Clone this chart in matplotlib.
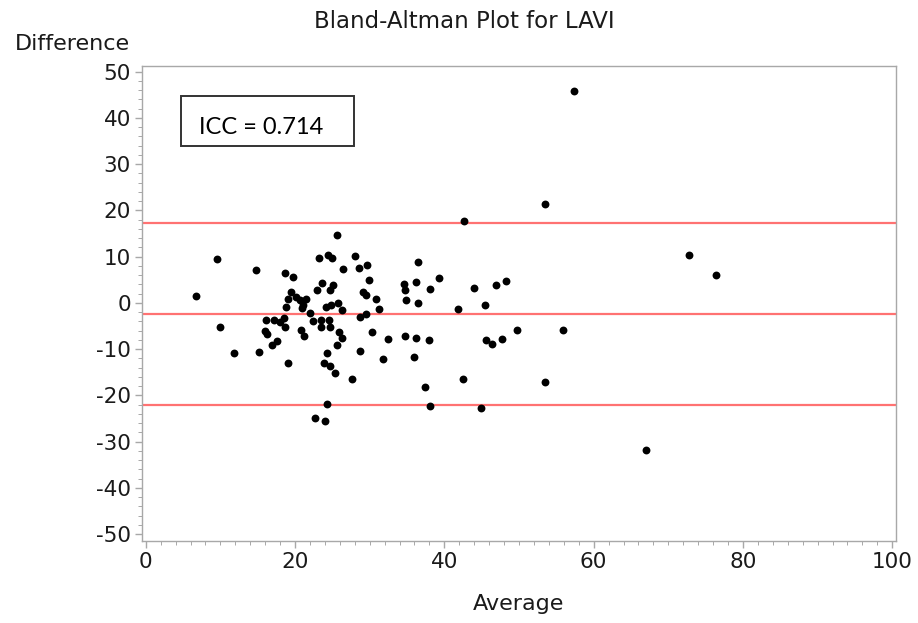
import matplotlib
matplotlib.use("Agg")
import matplotlib.pyplot as plt
from matplotlib.ticker import MultipleLocator
from matplotlib.patches import Rectangle

plt.rcParams["axes.unicode_minus"] = False

average = [6.79, 9.60, 10.01, 11.83, 14.74, 15.20, 16.17, 17.15, 16.01, 16.30,
           16.97, 17.59, 17.95, 18.62, 19.06, 18.55, 18.69, 19.73, 19.52, 19.06,
           20.19, 20.72, 21.07, 21.53, 18.85, 21.97, 22.41, 20.86, 21.17, 20.96,
           22.73, 24.07, 24.34, 22.97, 23.17, 23.67, 24.45, 24.92, 25.63, 24.72,
           25.09, 24.21, 24.85, 25.72, 26.30, 23.54, 23.54, 24.55, 24.74, 25.89,
           26.26, 25.63, 24.31, 23.84, 24.65, 25.32, 26.46, 27.64, 28.04, 28.53,
           29.65, 29.87, 29.11, 29.56, 30.90, 31.25, 29.56, 28.67, 30.37, 32.42,
           28.67, 31.79, 34.56, 34.70, 36.17, 36.48, 38.14, 39.25, 43.94, 46.98,
           48.32, 34.83, 36.48, 41.84, 45.41, 34.70, 36.17, 37.95, 35.94, 49.74,
           55.86, 45.55, 46.39, 47.69, 37.47, 42.51, 53.49, 38.08, 44.88, 42.64,
           53.48, 57.37, 72.78, 76.36, 67.07]
difference = [1.40, 9.42, -5.33, -10.92, 7.10, -10.65, -3.76, -3.61, -6.02, -6.77,
              -9.20, -8.34, -4.13, 6.41, -13.08, -3.23, -5.16, 5.59, 2.26, 0.90,
              1.25, 0.54, -0.54, 0.90, -0.90, -2.11, -3.98, -5.81, -7.10, -1.18,
              -24.90, -25.63, -21.83, 2.84, 9.72, 4.34, 10.43, 9.63, 14.67, 2.80,
              3.76, -0.86, -0.54, -0.11, -1.51, -3.76, -5.20, -3.76, -5.20, -6.34,
              -7.53, -9.03, -10.92, -13.01, -13.59, -15.16, 7.35, -16.52, 10.15, 7.57,
              8.28, 4.95, 2.32, 1.61, 0.75, -1.25, -2.32, -3.05, -6.41, -7.85,
              -10.43, -12.15, 3.98, 2.84, 4.47, 8.77, 2.90, 5.42, 3.27, 3.76,
              4.69, 0.69, -0.04, -1.25, -0.54, -7.14, -7.57, -8.06, -11.66, -5.91,
              -5.91, -8.06, -8.92, -7.85, -18.11, -16.45, -17.16, -22.41, -22.84, 17.74,
              21.29, 45.70, 10.43, 5.91, -31.72]

upper_loa = 17.25
mean_diff = -2.37
lower_loa = -22.0

x_ticks = [0, 20, 40, 60, 80, 100]
y_ticks = [-50, -40, -30, -20, -10, 0, 10, 20, 30, 40, 50]

fig = plt.figure(figsize=(9.18, 6.23), dpi=100)
ax = fig.add_axes([142/918, 1-541/623, (896-142)/918, (541-66)/623])

for v in (upper_loa, mean_diff, lower_loa):
    ax.axhline(v, color="#ff7272", lw=1.6, zorder=1)

ax.scatter(average, difference, s=32, color="black", zorder=3, linewidths=0)

ax.set_xlim(-0.5, 100.5)
ax.set_ylim(-51.5, 51.2)
ax.set_xticks(x_ticks)
ax.set_yticks(y_ticks)
ax.xaxis.set_minor_locator(MultipleLocator(2))
ax.yaxis.set_minor_locator(MultipleLocator(2))

frame_c = "#a8a8a8"
for s in ax.spines.values():
    s.set_color(frame_c)
    s.set_linewidth(1.0)
ax.tick_params(which="major", length=5, width=1, color=frame_c,
               labelsize=15.5, labelcolor="#1a1a1a", pad=3)
ax.tick_params(which="minor", length=3, width=0.7, color=frame_c)

ax.set_xlabel("Average", fontsize=16, color="#1a1a1a", labelpad=16)
fig.text(72/918, 1-44/623, "Difference", fontsize=16, color="#1a1a1a",
         ha="center", va="center")
fig.text(464/918, 1-22/623, "Bland-Altman Plot for LAVI", fontsize=16.5,
         color="#1a1a1a", ha="center", va="center")

ax.text((199-142)/754, 0.870, "ICC = 0.714", transform=ax.transAxes, fontsize=17,
        family=["Lato", "DejaVu Sans"], va="center", ha="left", zorder=5)
box = Rectangle((181/918, 1-145.7/623), (354-181)/918, 50/623,
                transform=fig.transFigure, fill=False, edgecolor="#333333",
                lw=1.4, zorder=5)
fig.add_artist(box)

fig.savefig("out.png", dpi=100)
